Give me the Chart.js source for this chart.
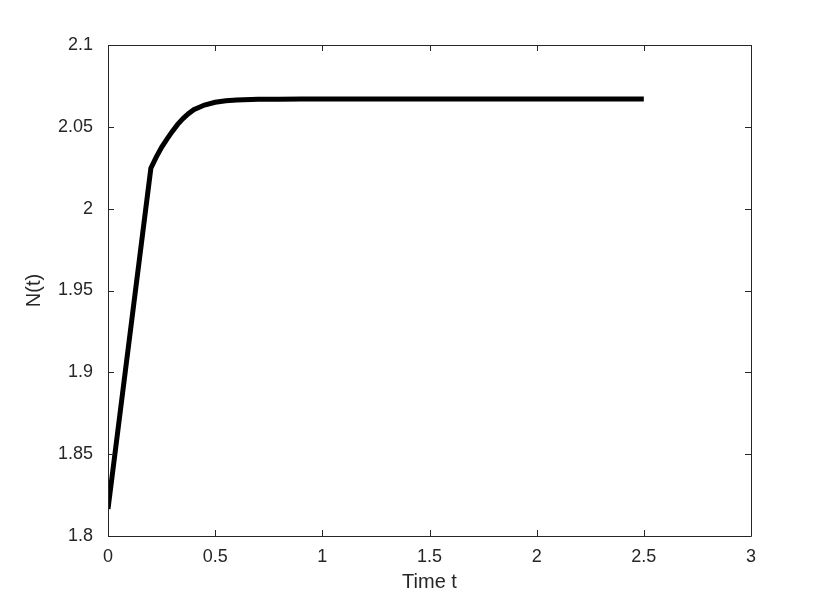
<!DOCTYPE html>
<html>
<head>
<meta charset="utf-8">
<script src="https://cdn.jsdelivr.net/npm/chart.js@4/dist/chart.umd.min.js"></script>
<style>
  html, body { margin: 0; padding: 0; background: #fff; }
  #wrap { width: 830px; height: 602px; }
</style>
</head>
<body>
<div id="wrap"><canvas id="chart" width="830" height="602"></canvas></div>
<script>
  // values
  const TIMES = [0, 0.2, 0.225, 0.25, 0.275, 0.3, 0.325, 0.35, 0.375, 0.4, 0.45, 0.5, 0.55, 0.6, 0.7, 0.8, 0.9, 1.0, 1.5, 2.0, 2.5];
  const N_VALUES = [1.8165, 2.0247, 2.0315, 2.0375, 2.0425, 2.0472, 2.0515, 2.055, 2.058, 2.0605, 2.0633, 2.065, 2.0659, 2.0664, 2.0668, 2.0669, 2.067, 2.067, 2.067, 2.067, 2.067];
  const X_TICKS = [0, 0.5, 1, 1.5, 2, 2.5, 3];
  const Y_TICKS = [1.8, 1.85, 1.9, 1.95, 2, 2.05, 2.1];

  const AXIS_COLOR = '#262626';
  const FONT = 'Liberation Sans, Arial, Helvetica, sans-serif';

  const fmt = (v) => String(+Number(v).toFixed(2));

  // box around the plot area with ticks pointing inwards on all four sides
  const boxPlugin = {
    id: 'box',
    afterDraw(chart) {
      const { ctx, chartArea: a, scales: { x, y } } = chart;
      const len = 6;
      ctx.save();
      ctx.strokeStyle = AXIS_COLOR;
      ctx.lineWidth = 1;
      ctx.beginPath();
      ctx.rect(Math.round(a.left) + 0.5, Math.round(a.top) + 0.5,
        Math.round(a.right - a.left), Math.round(a.bottom - a.top));
      X_TICKS.forEach((v) => {
        const px = Math.round(x.getPixelForValue(v)) + 0.5;
        ctx.moveTo(px, a.bottom); ctx.lineTo(px, a.bottom - len);
        ctx.moveTo(px, a.top); ctx.lineTo(px, a.top + len);
      });
      Y_TICKS.forEach((v) => {
        const py = Math.round(y.getPixelForValue(v)) + 0.5;
        ctx.moveTo(a.left, py); ctx.lineTo(a.left + len, py);
        ctx.moveTo(a.right, py); ctx.lineTo(a.right - len, py);
      });
      ctx.stroke();
      ctx.restore();
    }
  };

  new Chart(document.getElementById('chart'), {
    type: 'line',
    data: {
      datasets: [{
        data: TIMES.map((t, i) => ({ x: t, y: N_VALUES[i] })),
        borderColor: '#000',
        borderWidth: 5,
        pointRadius: 0,
        tension: 0,
        fill: false
      }]
    },
    options: {
      responsive: false,
      animation: false,
      layout: { padding: { top: 45, right: 79, left: 0, bottom: 0 } },
      plugins: { legend: { display: false }, tooltip: { enabled: false } },
      scales: {
        x: {
          type: 'linear',
          min: 0, max: 3,
          afterFit: (s) => { s.height = 66; },
          afterBuildTicks: (s) => { s.ticks = X_TICKS.map((v) => ({ value: v })); },
          ticks: { color: AXIS_COLOR, padding: 10, maxRotation: 0, callback: fmt, font: { family: FONT, size: 18 } },
          grid: { display: false, drawTicks: false },
          border: { display: false },
          title: { display: true, text: 'Time t', color: AXIS_COLOR, padding: { bottom: 8 }, font: { family: FONT, size: 20 } }
        },
        y: {
          type: 'linear',
          min: 1.8, max: 2.1,
          afterFit: (s) => { s.width = 108; },
          afterBuildTicks: (s) => { s.ticks = Y_TICKS.map((v) => ({ value: v })); },
          ticks: { color: AXIS_COLOR, padding: 15, callback: fmt, font: { family: FONT, size: 18 } },
          grid: { display: false, drawTicks: false },
          border: { display: false },
          title: { display: true, text: 'N(t)', color: AXIS_COLOR, padding: { top: 22 }, font: { family: FONT, size: 20 } }
        }
      }
    },
    plugins: [boxPlugin]
  });
</script>
</body>
</html>
